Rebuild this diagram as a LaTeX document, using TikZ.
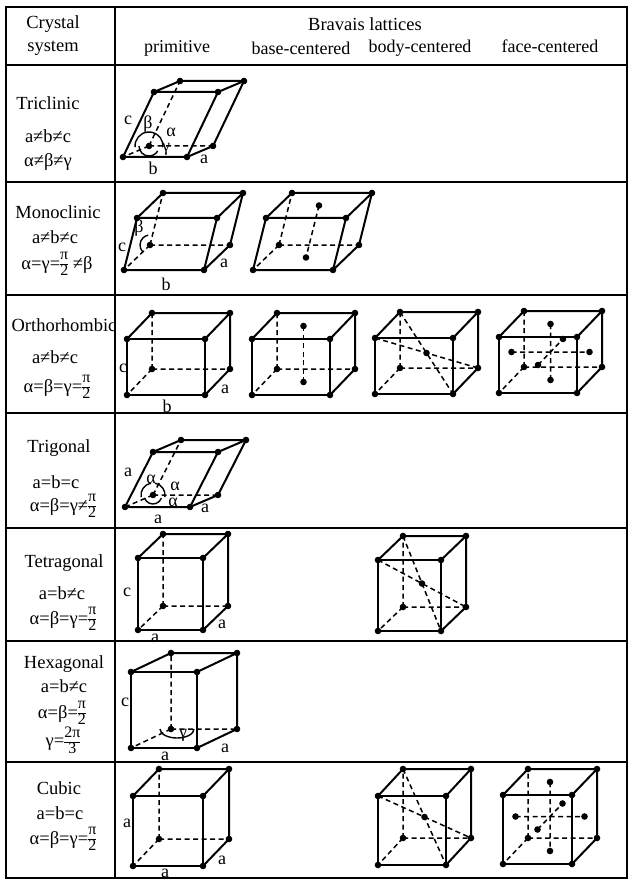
\documentclass[tikz,border=0pt]{standalone}
\usepackage{fontspec}
\setmainfont{Liberation Serif}
\usetikzlibrary{calc}

\tikzset{
  edge/.style={line width=2pt, line cap=round, line join=round},
  hidden/.style={line width=1.5pt, dash pattern=on 5pt off 3.5pt},
  rule/.style={line width=1.8pt},
  angle/.style={line width=1.4pt},
  txt/.style={font=\fontsize{18.5}{23}\selectfont, inner sep=0pt},
  lbl/.style={font=\fontsize{18}{18}\selectfont, inner sep=0pt},
}
\def\frc#1#2{{\fontsize{16}{16}\selectfont\renewcommand\arraystretch{0.85}%
  \setlength\arrayrulewidth{0.9pt}\begin{tabular}{@{}c@{}}#1\\\hline #2\end{tabular}}}

\begin{document}
\begin{tikzpicture}[x=1pt, y=-1pt]
\useasboundingbox (0,0) rectangle (639,885);

% One cell: name, front corner (x,y), width, height, top shift, back offset (dx,dy)
\def\lattice#1#2#3#4#5#6#7#8{
  \coordinate (#1-fbl) at (#2,#3);
  \coordinate (#1-fbr) at ({#2+#4},#3);
  \coordinate (#1-ftl) at ({#2+#6},{#3-#5});
  \coordinate (#1-ftr) at ({#2+#4+#6},{#3-#5});
  \coordinate (#1-bbl) at ({#2+#7},{#3+#8});
  \coordinate (#1-bbr) at ({#2+#4+#7},{#3+#8});
  \coordinate (#1-btl) at ({#2+#6+#7},{#3-#5+#8});
  \coordinate (#1-btr) at ({#2+#4+#6+#7},{#3-#5+#8});
  \draw[hidden] (#1-bbl) -- (#1-btl) (#1-bbl) -- (#1-bbr) (#1-bbl) -- (#1-fbl);
  \draw[edge] (#1-fbl) -- (#1-fbr) -- (#1-ftr) -- (#1-ftl) -- cycle;
  \draw[edge] (#1-ftl) -- (#1-btl) -- (#1-btr) -- (#1-ftr);
  \draw[edge] (#1-fbr) -- (#1-bbr) -- (#1-btr);
  \foreach \p in {fbl,fbr,ftl,ftr,bbl,bbr,btl,btr} \fill (#1-\p) circle (3.3);
}
% Extra points for the centred cells
\def\basec#1{
  \coordinate (#1-top) at ($(#1-ftl)!0.5!(#1-btr)$);
  \coordinate (#1-bot) at ($(#1-fbl)!0.5!(#1-bbr)$);
  \draw[hidden] (#1-top) -- (#1-bot);
  \fill (#1-top) circle (3.3) (#1-bot) circle (3.3);
}
\def\bodyc#1{
  \coordinate (#1-mid) at ($(#1-fbl)!0.5!(#1-btr)$);
  \draw[hidden] (#1-ftl) -- (#1-bbr) (#1-btl) -- (#1-fbr);
  \fill (#1-mid) circle (3.3);
}
\def\facec#1{
  \coordinate (#1-top) at ($(#1-ftl)!0.5!(#1-btr)$);
  \coordinate (#1-bot) at ($(#1-fbl)!0.5!(#1-bbr)$);
  \coordinate (#1-lft) at ($(#1-fbl)!0.5!(#1-btl)$);
  \coordinate (#1-rgt) at ($(#1-fbr)!0.5!(#1-btr)$);
  \coordinate (#1-frt) at ($(#1-fbl)!0.5!(#1-ftr)$);
  \coordinate (#1-bck) at ($(#1-bbl)!0.5!(#1-btr)$);
  \draw[hidden] (#1-top) -- (#1-bot) (#1-lft) -- (#1-rgt) (#1-frt) -- (#1-bck);
  \foreach \p in {top,bot,lft,rgt,frt,bck} \fill (#1-\p) circle (3.3);
}

% Table frame and rules
\draw[rule] (6,7) rectangle (627,878);
\draw[rule] (115,7) -- (115,878);
\draw[rule] (6,65) -- (627,65);
\draw[rule] (6,182) -- (627,182);
\draw[rule] (6,295) -- (627,295);
\draw[rule] (6,413) -- (627,413);
\draw[rule] (6,528) -- (627,528);
\draw[rule] (6,641) -- (627,641);
\draw[rule] (6,762) -- (627,762);

% Header
\node[txt, align=center] (hd-sys) at (53,36) {Crystal\\system};
\node[txt] (hd-brav) at (365,24) {Bravais lattices};
\node[txt, font=\fontsize{18}{23}\selectfont] (hd-p) at (177,48) {primitive};
\node[txt, font=\fontsize{18}{23}\selectfont] (hd-c) at (301,48) {base-centered};
\node[txt, font=\fontsize{18}{23}\selectfont] (hd-i) at (420,48) {body-centered};
\node[txt, font=\fontsize{18}{23}\selectfont] (hd-f) at (550,46) {face-centered};

% Triclinic
\node[txt] (tric-name) at (48,103) {Triclinic};
\node[txt] (tric-abc) at (48,136) {a≠b≠c};
\node[txt] (tric-ang) at (48,162) {α≠β≠γ};
\lattice{tric}{123}{157}{64}{65}{31}{26}{-11}
\draw[angle] ([shift={(175:14)}]tric-bbl) arc[start angle=175, end angle=365, radius=14];
\draw[angle] ([shift={(180:10)}]tric-bbl) arc[start angle=180, end angle=30, radius=10];
\node[lbl] (tric-lc) at (128,120) {c};
\node[lbl] (tric-lbeta) at (148,124) {β};
\node[lbl] (tric-lalpha) at (171,132) {α};
\node[lbl] (tric-lgamma) at (166,149) {γ};
\node[lbl] (tric-lb) at (153,168) {b};
\node[lbl] (tric-la) at (204,159) {a};

% Monoclinic
\node[txt] (mono-name) at (58,212) {Monoclinic};
\node[txt] (mono-abc) at (55,237) {a≠b≠c};
\node[txt] (mono-ang) at (57,265) {α=γ=\frc{π}{2} ≠β};
\lattice{monoP}{124}{270}{80}{52}{13}{26}{-25}
\lattice{monoC}{253}{270}{80}{52}{13}{26}{-25}
\basec{monoC}
\draw[angle] ([shift={(136:10)}]monoP-bbl) arc[start angle=136, end angle=260, radius=10];
\node[lbl] (mono-lc) at (122,247) {c};
\node[lbl] (mono-lbeta) at (139,228) {β};
\node[lbl] (mono-la) at (224,263) {a};
\node[lbl] (mono-lb) at (166,284) {b};

% Orthorhombic
\node[txt] (orth-name) at (64,325) {Orthorhombic};
\node[txt] (orth-abc) at (55,357) {a≠b≠c};
\node[txt] (orth-ang) at (57,388) {α=β=γ=\frc{π}{2}};
\lattice{orthP}{127}{395}{78}{56}{0}{25}{-26}
\lattice{orthC}{252}{395}{78}{56}{0}{25}{-26}
\basec{orthC}
\lattice{orthI}{375}{394}{78}{56}{0}{25}{-26}
\bodyc{orthI}
\lattice{orthF}{499}{393}{78}{56}{0}{25}{-26}
\facec{orthF}
\node[lbl] (orth-lc) at (123,368) {c};
\node[lbl] (orth-la) at (225,389) {a};
\node[lbl] (orth-lb) at (167,406) {b};

% Trigonal
\node[txt] (trig-name) at (59,448) {Trigonal};
\node[txt] (trig-abc) at (56,482) {a=b=c};
\node[txt] (trig-ang) at (63,507) {α=β=γ≠\frc{π}{2}};
\lattice{trig}{125}{507}{65}{55}{28}{28}{-12}
\draw[angle] ([shift={(170:12)}]trig-bbl) arc[start angle=170, end angle=260, radius=12];
\draw[angle] ([shift={(280:12)}]trig-bbl) arc[start angle=280, end angle=370, radius=12];
\draw[angle] ([shift={(160:9)}]trig-bbl) arc[start angle=160, end angle=20, radius=9];
\node[lbl] (trig-la1) at (128,472) {a};
\node[lbl] (trig-lalpha1) at (151,479) {α};
\node[lbl] (trig-lalpha2) at (175,486) {α};
\node[lbl] (trig-lalpha3) at (173,502) {α};
\node[lbl] (trig-la2) at (205,508) {a};
\node[lbl] (trig-la3) at (158,519) {a};

% Tetragonal
\node[txt] (tetr-name) at (64,563) {Tetragonal};
\node[txt] (tetr-abc) at (62,593) {a=b≠c};
\node[txt] (tetr-ang) at (63,620) {α=β=γ=\frc{π}{2}};
\lattice{tetrP}{138}{630}{65}{72}{0}{25}{-24}
\lattice{tetrI}{378}{631}{63}{71}{0}{25}{-24}
\bodyc{tetrI}
\node[lbl] (tetr-lc) at (127,592) {c};
\node[lbl] (tetr-la1) at (222,624) {a};
\node[lbl] (tetr-la2) at (155,638) {a};

% Hexagonal
\node[txt] (hexa-name) at (64,664) {Hexagonal};
\node[txt] (hexa-abc) at (64,686) {a=b≠c};
\node[txt] (hexa-ang) at (62,714) {α=β=\frc{π}{2}};
\node[txt] (hexa-gam) at (63,742) {γ=\frc{2π}{3}};
\lattice{hexa}{131}{748}{66}{76}{0}{40}{-19}
\draw[angle] ([xshift=-11pt]hexa-bbl) arc[start angle=180, end angle=0, x radius=17, y radius=9];
\node[lbl] (hexa-lc) at (125,702) {c};
\node[lbl] (hexa-lgamma) at (183,735) {γ};
\node[lbl] (hexa-la1) at (225,748) {a};
\node[lbl] (hexa-la2) at (165,756) {a};

% Cubic
\node[txt] (cub-name) at (59,788) {Cubic};
\node[txt] (cub-abc) at (60,813) {a=b=c};
\node[txt] (cub-ang) at (63,840) {α=β=γ=\frc{π}{2}};
\lattice{cubP}{133}{866}{70}{70}{0}{26}{-27}
\lattice{cubI}{378}{865}{68}{69}{0}{25}{-27}
\bodyc{cubI}
\lattice{cubF}{503}{864}{69}{69}{0}{25}{-26}
\facec{cubF}
\node[lbl] (cub-la1) at (127,823) {a};
\node[lbl] (cub-la2) at (222,860) {a};
\node[lbl] (cub-la3) at (165,873) {a};
\end{tikzpicture}
\end{document}
